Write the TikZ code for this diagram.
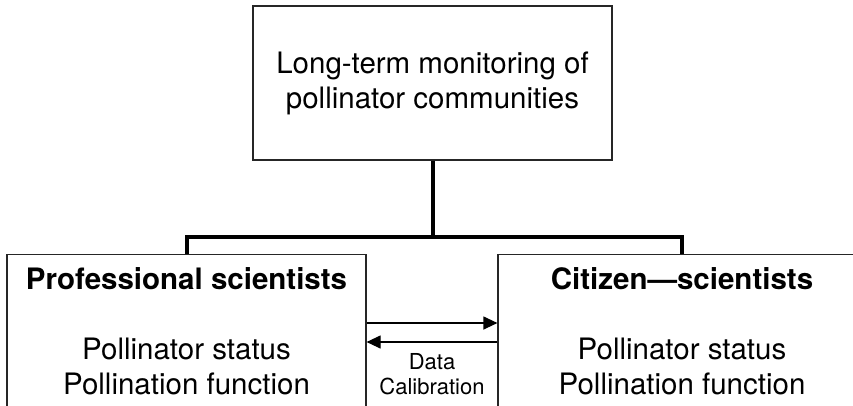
\documentclass[tikz,border=0pt]{standalone}
\usepackage{fontspec}
\setmainfont{TeX Gyre Heros}
\usetikzlibrary{positioning}
\usetikzlibrary{arrows.meta}

\begin{document}
\begin{tikzpicture}[x=1pt,y=-1pt,
    box/.style={draw=black!85,line width=1.2pt,fill=white},
    bus/.style={line width=4pt,black},
    flow/.style={line width=1.2pt,-{Triangle[length=14pt,width=13pt]}},
    bodytext/.style={inner sep=0pt,align=center,font=\fontsize{29.5}{35}\selectfont},
    note/.style={inner sep=0pt,align=center,font=\fontsize{22}{25}\selectfont}]
\useasboundingbox (0,0) rectangle (853,405);

% top box
\node[box,bodytext,minimum width=359pt,minimum height=154pt] (monitor) at (432.5,83) {Long-term monitoring of\\pollinator communities};

% the two groups
\node[box,minimum width=359pt,minimum height=200pt,anchor=north] (prof) at (186.5,254) {};
\node[box,minimum width=368pt,minimum height=200pt,anchor=north] (citizen) at (682,254) {};
\node[bodytext,below=13pt of prof.north] (proftext) {\textbf{Professional scientists}\\[35pt]Pollinator status\\Pollination function};
\node[bodytext,below=13pt of citizen.north] (citizentext) {\textbf{Citizen—scientists}\\[35pt]Pollinator status\\Pollination function};

% bus
\coordinate (hub) at (432.5,237);
\draw[bus] (monitor.south) -- (hub);
\draw[bus] (hub) -| (prof.north);
\draw[bus] (hub) -| (citizen.north);

% data calibration
\draw[flow] ([yshift=-69pt]prof.north east) -- ([yshift=-69pt]citizen.north west);
\draw[flow] ([yshift=-88pt]citizen.north west) -- ([yshift=-88pt]prof.north east) node[note,midway,below=11pt] (calib) {Data\\Calibration};
\end{tikzpicture}
\end{document}
